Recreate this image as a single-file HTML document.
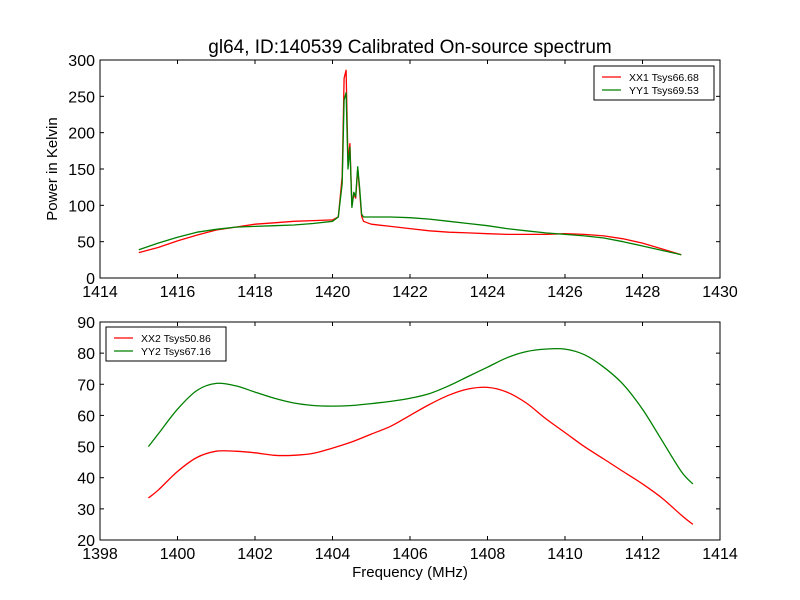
<!DOCTYPE html>
<html><head><meta charset="utf-8"><style>
body{margin:0;background:#fff}
svg{display:block;font-family:"Liberation Sans","DejaVu Sans",sans-serif}
</style></head><body>
<svg id="chart" width="800" height="600" viewBox="0 0 800 600">
<rect width="800" height="600" fill="#fff"/>
<text x="410" y="53" font-size="19" text-anchor="middle">gl64, ID:140539 Calibrated On-source spectrum</text>
<g id="top"></g>
<g id="bot"></g>
<text x="57" y="169" font-size="15" text-anchor="middle" transform="rotate(-90 57 169)">Power in Kelvin</text>
<text x="410" y="577" font-size="15" text-anchor="middle">Frequency (MHz)</text>
</svg>
<script>
const topFreq=[1415,1415.5,1416,1416.5,1417,1417.5,1418,1418.5,1419,1419.5,1420,1420.15,1420.25,1420.3,1420.35,1420.4,1420.45,1420.5,1420.55,1420.6,1420.65,1420.7,1420.75,1420.8,1420.9,1421,1421.5,1422,1422.5,1423,1423.5,1424,1424.5,1425,1425.5,1426,1426.5,1427,1427.5,1428,1428.5,1429];
const xx1=[35,42,51,59,66,70,74,76,78,79,80,84,140,275,286,160,185,100,115,110,150,120,85,78,76,74,71,68,65,63,62,61,60,60,60,61,60,58,54,48,40,32];
const yy1=[39,48,56,63,67,70,71,72,73,75,78,84,130,245,255,150,180,97,118,112,153,125,88,84,84,84,84,83,81,78,75,72,68,65,62,60,58,55,50,44,38,32];
const botFreq=[1399.25,1399.5,1400,1400.5,1401,1401.5,1402,1402.5,1403,1403.5,1404,1404.5,1405,1405.5,1406,1406.5,1407,1407.5,1408,1408.5,1409,1409.5,1410,1410.5,1411,1411.5,1412,1412.5,1413,1413.3];
const xx2=[33.5,36,42,46.5,48.5,48.5,48,47.2,47.2,47.8,49.5,51.5,54,56.5,60,63.5,66.5,68.5,69,67.5,64,59,54.5,50,46,42,38,33.5,28,25];
const yy2=[50,54,62,68,70.3,69.5,67.5,65.5,64,63.2,63,63.2,63.8,64.5,65.5,67,69.5,72.5,75.5,78.5,80.5,81.3,81.3,79.5,75.5,70,62,52,42,38];
const topXTicks=[1414,1416,1418,1420,1422,1424,1426,1428,1430];
const topYTicks=[0,50,100,150,200,250,300];
const botXTicks=[1398,1400,1402,1404,1406,1408,1410,1412,1414];
const botYTicks=[20,30,40,50,60,70,80,90];
const NS="http://www.w3.org/2000/svg";
function mk(p,t,a){const e=document.createElementNS(NS,t);for(const k in a)e.setAttribute(k,a[k]);p.appendChild(e);return e;}
function smoothPath(P){let d='M'+P[0][0].toFixed(1)+','+P[0][1].toFixed(1);
 for(let i=0;i<P.length-1;i++){const p0=P[Math.max(0,i-1)],p1=P[i],p2=P[i+1],p3=P[Math.min(P.length-1,i+2)];
  const c1=[p1[0]+(p2[0]-p0[0])/6,p1[1]+(p2[1]-p0[1])/6],c2=[p2[0]-(p3[0]-p1[0])/6,p2[1]-(p3[1]-p1[1])/6];
  d+=' C'+c1.map(v=>v.toFixed(1)).join(',')+' '+c2.map(v=>v.toFixed(1)).join(',')+' '+p2[0].toFixed(1)+','+p2[1].toFixed(1);}
 return d;}
function panel(g,L,T,R,B,x0,x1,y0,y1,xt,yt,series,legend,lx,ly,smooth){
 const sx=v=>L+(v-x0)/(x1-x0)*(R-L), sy=v=>B-(v-y0)/(y1-y0)*(B-T);
 xt.forEach(v=>{const x=sx(v);
  const l1=mk(g,'line',{x1:x,x2:x,y1:B,y2:B-4,stroke:'#000'});
  
  
  mk(g,'line',{x1:x,x2:x,y1:T,y2:T+4,stroke:'#000'});
  const t=mk(g,'text',{x:x,y:B+19,'font-size':16,'text-anchor':'middle'});t.textContent=v;
  
  });
 yt.forEach(v=>{const y=sy(v);
  const l1=mk(g,'line',{x1:L,x2:L+4,y1:y,y2:y,stroke:'#000'});
  
  
  mk(g,'line',{x1:R,x2:R-4,y1:y,y2:y,stroke:'#000'});
  const t=mk(g,'text',{x:L-5,y:y+6,'font-size':16,'text-anchor':'end'});t.textContent=v;
  
  });
 series.forEach(s=>{const P=s.f.map((f,i)=>[sx(f),sy(s.v[i])]);
  let p;
  if(smooth){p=mk(g,'path',{d:smoothPath(P),fill:'none',stroke:s.c,'stroke-width':1.3});}
  else{p=mk(g,'polyline',{points:P.map(q=>q[0].toFixed(1)+','+q[1].toFixed(1)).join(' '),fill:'none',stroke:s.c,'stroke-width':1.3,'stroke-linejoin':'round'});}
  
  });
 const fr=mk(g,'rect',{x:L,y:T,width:R-L,height:B-T,fill:'none',stroke:'#000','stroke-width':1});
 
 
 const lg=mk(g,'g',{});
 
 
 mk(lg,'rect',{x:lx,y:ly,width:120,height:34,fill:'#fff',stroke:'#000'});
 series.forEach((s,i)=>{const yy=ly+11+i*13;
  mk(lg,'line',{x1:lx+8,x2:lx+27,y1:yy,y2:yy,stroke:s.c,'stroke-width':1.3});
  const t=mk(lg,'text',{x:lx+35,y:yy+4,'font-size':10.5});t.textContent=legend[i];
  
  });
}
panel(document.getElementById('top'),100,60,720,278,1414,1430,0,300,topXTicks,topYTicks,
 [{f:topFreq,v:xx1,c:'#ff0000',n:'xx1-line'},{f:topFreq,v:yy1,c:'#008000',n:'yy1-line'}],
 ['XX1 Tsys66.68','YY1 Tsys69.53'],594,66,false);
panel(document.getElementById('bot'),100,322,720,540,1398,1414,20,90,botXTicks,botYTicks,
 [{f:botFreq,v:xx2,c:'#ff0000',n:'xx2-line'},{f:botFreq,v:yy2,c:'#008000',n:'yy2-line'}],
 ['XX2 Tsys50.86','YY2 Tsys67.16'],106,327,true);
</script>
</body></html>
